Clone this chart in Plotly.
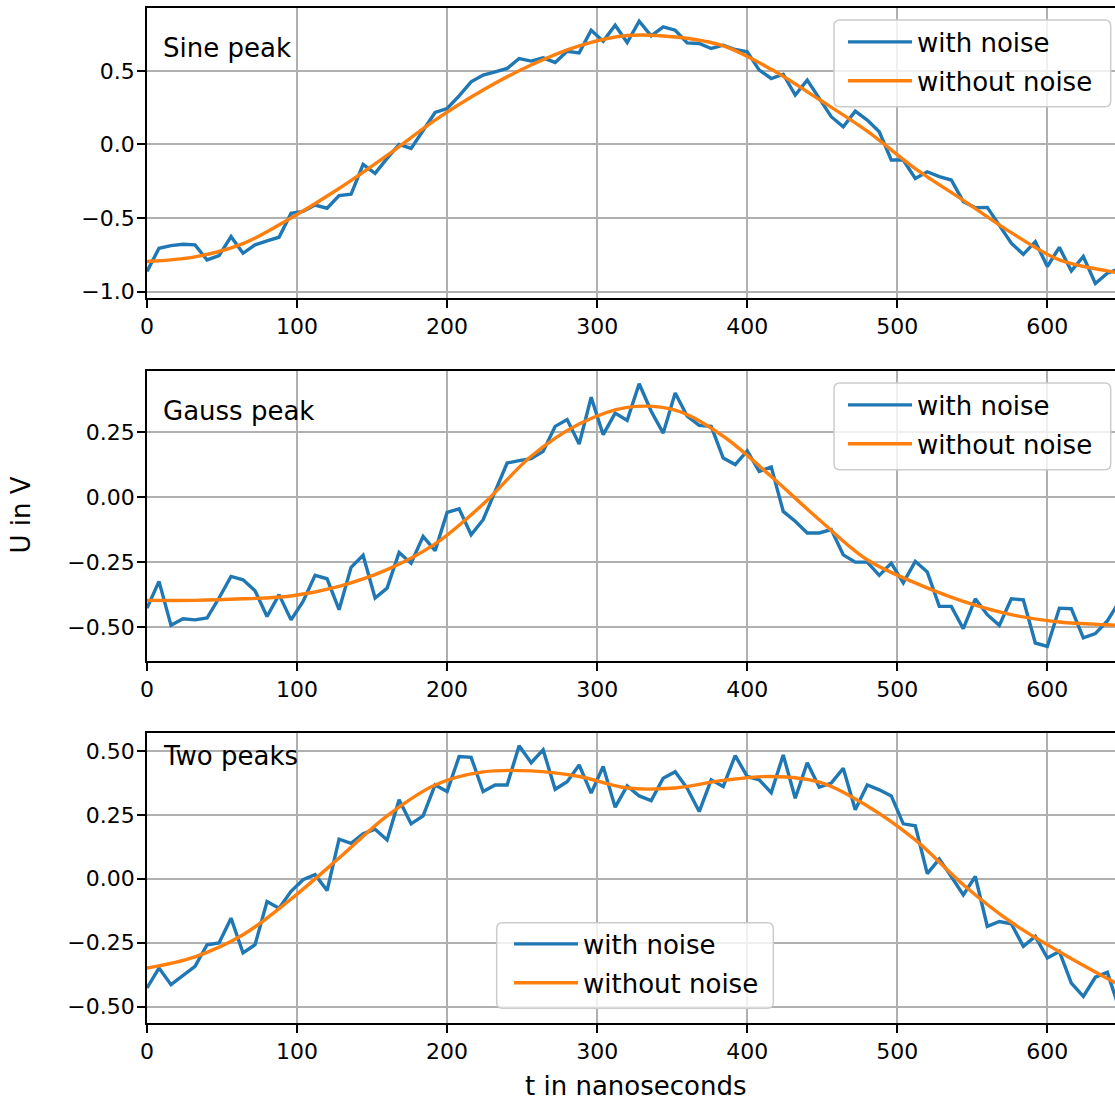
import plotly.graph_objects as go

# ---------------- data ----------------
t = list(range(0, 649, 8))            # sample times (ns), 82 samples
t_smooth = list(range(0, 641, 32)) + [648]

sine_noisy = [-0.864, -0.706, -0.688, -0.679, -0.683, -0.785, -0.756, -0.627, -0.740, -0.683,
              -0.656, -0.631, -0.468, -0.455, -0.412, -0.434, -0.348, -0.339, -0.136, -0.197,
              -0.095, 0.000, -0.027, 0.097, 0.217, 0.244, 0.330, 0.425, 0.471, 0.493,
              0.516, 0.584, 0.566, 0.588, 0.557, 0.633, 0.622, 0.776, 0.701, 0.810,
              0.692, 0.837, 0.738, 0.799, 0.776, 0.690, 0.686, 0.652, 0.674, 0.645,
              0.629, 0.505, 0.448, 0.477, 0.335, 0.437, 0.310, 0.188, 0.120, 0.226,
              0.165, 0.086, -0.106, -0.106, -0.231, -0.186, -0.219, -0.242, -0.389, -0.430,
              -0.428, -0.548, -0.672, -0.747, -0.661, -0.830, -0.700, -0.860, -0.762, -0.945,
              -0.875, -0.845]
sine_clean = [-0.796, -0.765, -0.675, -0.500, -0.300, -0.075, 0.165, 0.370, 0.540, 0.670, 0.740,
              0.730, 0.670, 0.510, 0.305, 0.090, -0.165, -0.380, -0.600, -0.785, -0.860, -0.873]

gauss_noisy = [-0.426, -0.323, -0.492, -0.467, -0.471, -0.464, -0.387, -0.304, -0.317, -0.359,
               -0.458, -0.374, -0.471, -0.400, -0.300, -0.313, -0.432, -0.269, -0.223, -0.387,
               -0.349, -0.212, -0.253, -0.150, -0.205, -0.058, -0.044, -0.144, -0.086, 0.019,
               0.132, 0.141, 0.149, 0.177, 0.273, 0.299, 0.205, 0.385, 0.241, 0.324,
               0.296, 0.437, 0.331, 0.247, 0.401, 0.312, 0.277, 0.273, 0.151, 0.126,
               0.179, 0.100, 0.117, -0.054, -0.092, -0.137, -0.137, -0.124, -0.221, -0.249,
               -0.249, -0.300, -0.253, -0.329, -0.246, -0.287, -0.419, -0.419, -0.505, -0.390,
               -0.451, -0.492, -0.390, -0.394, -0.560, -0.573, -0.426, -0.428, -0.540, -0.524,
               -0.475, -0.400]
gauss_clean = [-0.396, -0.396, -0.390, -0.379, -0.342, -0.278, -0.179, -0.026, 0.158, 0.282, 0.346,
               0.335, 0.235, 0.080, -0.086, -0.240, -0.329, -0.400, -0.451, -0.479, -0.490, -0.492]

two_noisy = [-0.427, -0.349, -0.414, -0.379, -0.342, -0.258, -0.251, -0.154, -0.290, -0.258,
             -0.089, -0.115, -0.049, -0.004, 0.016, -0.046, 0.155, 0.139, 0.176, 0.194,
             0.152, 0.309, 0.215, 0.246, 0.367, 0.341, 0.478, 0.475, 0.341, 0.367,
             0.367, 0.520, 0.454, 0.504, 0.350, 0.380, 0.445, 0.335, 0.439, 0.280,
             0.363, 0.324, 0.306, 0.393, 0.419, 0.354, 0.263, 0.387, 0.361, 0.482,
             0.400, 0.387, 0.337, 0.484, 0.315, 0.454, 0.358, 0.374, 0.432, 0.270,
             0.367, 0.348, 0.324, 0.215, 0.207, 0.020, 0.077, 0.009, -0.063, 0.009,
             -0.186, -0.167, -0.176, -0.264, -0.225, -0.310, -0.284, -0.408, -0.460, -0.385,
             -0.366, -0.510]
two_clean = [-0.349, -0.305, -0.219, -0.079, 0.081, 0.246, 0.367, 0.418, 0.422, 0.400, 0.355,
             0.355, 0.385, 0.400, 0.378, 0.285, 0.152, -0.023, -0.170, -0.285, -0.390, -0.415]

panel_titles = ["Sine peak", "Gauss peak", "Two peaks"]
series_names = ["with noise", "without noise"]

x_tick_vals = [0, 100, 200, 300, 400, 500, 600]
x_tick_text = ["0", "100", "200", "300", "400", "500", "600"]
y1_tick_vals = [-1.0, -0.5, 0.0, 0.5]
y1_tick_text = ["\u22121.0", "\u22120.5", "0.0", "0.5"]
y2_tick_vals = [-0.5, -0.25, 0.0, 0.25]
y2_tick_text = ["\u22120.50", "\u22120.25", "0.00", "0.25"]
y3_tick_vals = [-0.5, -0.25, 0.0, 0.25, 0.5]
y3_tick_text = ["\u22120.50", "\u22120.25", "0.00", "0.25", "0.50"]

# ---------------- style ----------------
BLUE = "#1f77b4"
ORANGE = "#ff7f0e"
FONT = "DejaVu Sans"
LW = 3.4
W, H = 1115, 1101
ML, MT, MB = 147, 8, 78
PW, PH = W - ML, H - MT - MB

fig = go.Figure()

panels = [
    (sine_noisy, sine_clean, "x", "y", "legend"),
    (gauss_noisy, gauss_clean, "x2", "y2", "legend2"),
    (two_noisy, two_clean, "x3", "y3", "legend3"),
]
for k, (noisy, clean, xa, ya, lg) in enumerate(panels):
    fig.add_trace(go.Scatter(x=t, y=noisy, mode="lines", name=series_names[0],
                             line=dict(color=BLUE, width=LW), xaxis=xa, yaxis=ya,
                             legend=lg, legendgroup=f"n{k}"))
    fig.add_trace(go.Scatter(x=t_smooth, y=clean, mode="lines", name=series_names[1],
                             line=dict(color=ORANGE, width=LW, shape="spline", smoothing=1.0),
                             xaxis=xa, yaxis=ya, legend=lg, legendgroup=f"c{k}"))

tickfont = dict(family=FONT, size=22, color="black")
xcommon = dict(range=[0, 645.1], tickvals=x_tick_vals, ticktext=x_tick_text,
               ticks="outside", ticklen=8, tickwidth=1.8, tickcolor="black",
               showline=True, linecolor="black", linewidth=1.8, mirror=True,
               showgrid=True, gridcolor="#b0b0b0", gridwidth=1.8, zeroline=False,
               tickfont=tickfont, ticklabelstandoff=0)
ycommon = dict(ticks="outside", ticklen=8, tickwidth=1.8, tickcolor="black",
               showline=True, linecolor="black", linewidth=1.8, mirror=False,
               showgrid=True, gridcolor="#b0b0b0", gridwidth=1.8, zeroline=False,
               tickfont=tickfont, ticklabelstandoff=-2)


def px_x(p):
    return (p - ML) / PW


def px_y(p):
    return (MT + PH - p) / PH


legcommon = dict(bgcolor="rgba(0,0,0,0)", borderwidth=0,
                 font=dict(family=FONT, size=26, color="black"), itemwidth=64,
                 tracegroupgap=2, xanchor="left", yanchor="top")

fig.update_layout(
    width=W, height=H,
    margin=dict(l=ML, r=0, t=MT, b=MB, autoexpand=False),
    paper_bgcolor="white", plot_bgcolor="white",
    font=dict(family=FONT, color="black"),
    xaxis=dict(domain=[0, 1], anchor="y", **xcommon),
    xaxis2=dict(domain=[0, 1], anchor="y2", **xcommon),
    xaxis3=dict(domain=[0, 1], anchor="y3", **xcommon),
    yaxis=dict(domain=[px_y(297.7), 1.0], anchor="x", range=[-1.042, 0.927],
               tickvals=y1_tick_vals, ticktext=y1_tick_text, **ycommon),
    yaxis2=dict(domain=[px_y(660.7), px_y(370.7)], anchor="x2", range=[-0.628, 0.487],
                tickvals=y2_tick_vals, ticktext=y2_tick_text, **ycommon),
    yaxis3=dict(domain=[0.0, px_y(733.3)], anchor="x3", range=[-0.564, 0.569],
                tickvals=y3_tick_vals, ticktext=y3_tick_text, **ycommon),
    legend=dict(x=px_x(843), y=px_y(18.5), **legcommon),
    legend2=dict(x=px_x(843), y=px_y(381.5), **legcommon),
    legend3=dict(x=px_x(509), y=px_y(920.5), **legcommon),
    showlegend=True,
)

# rounded legend frames (matplotlib style)
def rounded_box(x0, y0, x1, y1, r=6):
    pts = [
        ("M", x0 + r, y0), ("L", x1 - r, y0), ("Q", x1, y0, x1, y0 + r),
        ("L", x1, y1 - r), ("Q", x1, y1, x1 - r, y1), ("L", x0 + r, y1),
        ("Q", x0, y1, x0, y1 - r), ("L", x0, y0 + r), ("Q", x0, y0, x0 + r, y0),
    ]
    parts = []
    for p in pts:
        cmd = p[0]
        coords = p[1:]
        s = []
        for i in range(0, len(coords), 2):
            s.append(f"{px_x(coords[i]):.5f},{px_y(coords[i + 1]):.5f}")
        parts.append(cmd + " " + " ".join(s))
    return " ".join(parts) + " Z"


legend_frames = [(834, 20, 1110.7, 106.7), (834, 383, 1110.7, 469.7), (496.7, 922.7, 773.3, 1008.3)]
for (x0, y0, x1, y1) in legend_frames:
    fig.add_shape(type="path", path=rounded_box(x0, y0, x1, y1), xref="paper", yref="paper",
                  fillcolor="rgba(255,255,255,0.8)", line=dict(color="#cccccc", width=1.5),
                  layer="above")

label_font = dict(family=FONT, size=26, color="black")
title_pos = [("x domain", "y domain", 0.862), ("x2 domain", "y2 domain", 0.862),
             ("x3 domain", "y3 domain", 0.920)]
for name, (xr, yr, yy) in zip(panel_titles, title_pos):
    fig.add_annotation(text=name, xref=xr, yref=yr, x=0.0145, y=yy,
                       xanchor="left", yanchor="middle", showarrow=False, font=label_font)

fig.add_annotation(text="U in V", xref="paper", yref="paper", x=px_x(20), y=px_y(515.5),
                   xanchor="center", yanchor="middle", textangle=-90, showarrow=False,
                   font=label_font)
fig.add_annotation(text="t in nanoseconds", xref="paper", yref="paper", x=px_x(635.5),
                   y=px_y(1086), xanchor="center", yanchor="middle", showarrow=False,
                   font=label_font)

fig.write_html("out.html", config={"displayModeBar": False},
               post_script="document.body.style.margin='0px';document.body.style.overflow='hidden';")
